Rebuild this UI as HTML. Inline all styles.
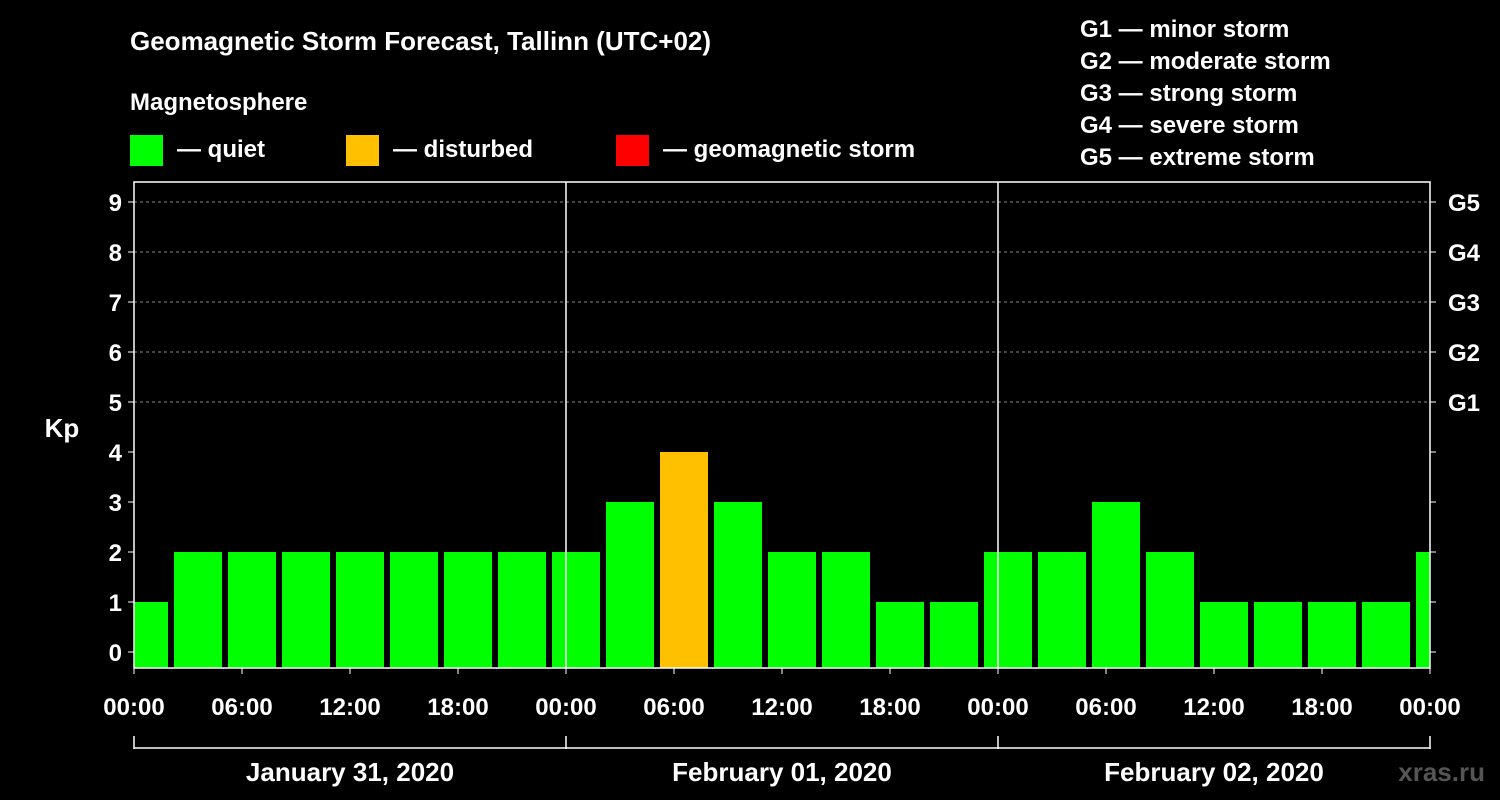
<!DOCTYPE html>
<html><head><meta charset="utf-8"><style>
html,body{margin:0;padding:0;background:#000;}
svg{display:block;font-family:"Liberation Sans",Arial,sans-serif;font-weight:bold;}
</style></head><body>
<svg id="chart" width="1500" height="800" viewBox="0 0 1500 800">
<rect x="0" y="0" width="1500" height="800" fill="#000"/>
<text x="130" y="50" fill="#fff" font-size="26">Geomagnetic Storm Forecast, Tallinn (UTC+02)</text>
<text x="130" y="110" fill="#fff" font-size="24">Magnetosphere</text>
<g>
<rect x="130" y="135" width="33" height="31" fill="#00ff00"/>
<text x="177" y="157" fill="#fff" font-size="24">— quiet</text>
<rect x="346" y="135" width="33" height="31" fill="#ffc000"/>
<text x="393" y="157" fill="#fff" font-size="24">— disturbed</text>
<rect x="616" y="135" width="33" height="31" fill="#ff0000"/>
<text x="663" y="157" fill="#fff" font-size="24">— geomagnetic storm</text>
</g>
<g fill="#fff" font-size="24">
<text x="1080" y="37">G1 — minor storm</text>
<text x="1080" y="69">G2 — moderate storm</text>
<text x="1080" y="101">G3 — strong storm</text>
<text x="1080" y="133">G4 — severe storm</text>
<text x="1080" y="165">G5 — extreme storm</text>
</g>
<text x="62" y="437" fill="#fff" font-size="26" text-anchor="middle">Kp</text>
<g id="grid"></g>
<g id="bars"></g>
<g id="axes"></g>
<text x="1485" y="781" fill="#555" font-size="26" text-anchor="end">xras.ru</text>
</svg>
<script>
const kpValues = [1,2,2,2,2,2,2,2,2,3,4,3,2,2,1,1,2,2,3,2,1,1,1,1,2];
const yTicks = [0,1,2,3,4,5,6,7,8,9];
const gLabels = ["G1","G2","G3","G4","G5"];
const timeLabels = ["00:00","06:00","12:00","18:00","00:00","06:00","12:00","18:00","00:00","06:00","12:00","18:00","00:00"];
const dateLabels = ["January 31, 2020","February 01, 2020","February 02, 2020"];

const NS="http://www.w3.org/2000/svg";
const L=134,R=1430,T=182,B=668;
const pxPerHour=(R-L)/72;
const firstSlotHour=-1; // first 3h slot starts at 23:00 previous day
function x(h){return L+h*pxPerHour;}
function y(v){return 652-50*v;}
function mk(tag,attrs,parent){const e=document.createElementNS(NS,tag);for(const k in attrs)e.setAttribute(k,attrs[k]);parent.appendChild(e);return e;}
const grid=document.getElementById('grid'),bars=document.getElementById('bars'),axes=document.getElementById('axes');

yTicks.forEach((v,i)=>{
  if(v>=5){const g=mk('line',{x1:L,x2:R,y1:y(v),y2:y(v),stroke:'#888','stroke-dasharray':'3,3','stroke-width':1},grid);
  
  }
  const tl=mk('line',{x1:L-6,x2:L,y1:y(v),y2:y(v),stroke:'#fff','stroke-width':1},axes);
  
  
  const tr=mk('line',{x1:R,x2:R+6,y1:y(v),y2:y(v),stroke:'#fff','stroke-width':1},axes);
  
  
  const t=mk('text',{x:L-12,y:y(v)+9,fill:'#fff','font-size':24,'text-anchor':'end'},axes);
  t.textContent=v;
  
  
});
gLabels.forEach((g,i)=>{
  const t=mk('text',{x:R+18,y:y(5+i)+9,fill:'#fff','font-size':24},axes);
  t.textContent=g;
  
  
});
const cp=mk('clipPath',{id:'plotclip'},bars);
mk('rect',{x:L,y:T,width:R-L,height:B-T},cp);
kpValues.forEach((v,i)=>{
  const h0=firstSlotHour+i*3;
  const color=v>=5?'#ff0000':(v>=4?'#ffc000':'#00ff00');
  const r=mk('rect',{x:x(h0)+4,y:y(v),width:3*pxPerHour-6,height:B-y(v),fill:color,'clip-path':'url(#plotclip)'},bars);
  
  
});
// frame
const fr=mk('rect',{x:L,y:T,width:R-L,height:B-T,fill:'none',stroke:'#fff','stroke-width':1.5},axes);


[24,48].forEach(h=>{const d=mk('line',{x1:x(h),x2:x(h),y1:T,y2:B,stroke:'#fff','stroke-width':1.5},axes);

});
timeLabels.forEach((s,i)=>{
  const tk=mk('line',{x1:x(i*6),x2:x(i*6),y1:B,y2:B+6,stroke:'#fff','stroke-width':1},axes);
  
  
  const t=mk('text',{x:x(i*6),y:715,fill:'#fff','font-size':24,'text-anchor':'middle'},axes);
  t.textContent=s;
  
  
});
const br=mk('line',{x1:L,x2:R,y1:748,y2:748,stroke:'#fff','stroke-width':1.5},axes);


[0,24,48,72].forEach(h=>{const d=mk('line',{x1:x(h),x2:x(h),y1:736,y2:749,stroke:'#fff','stroke-width':1.5},axes);

});
dateLabels.forEach((s,i)=>{
  const t=mk('text',{x:x(i*24+12),y:781,fill:'#fff','font-size':26,'text-anchor':'middle'},axes);
  t.textContent=s;
  
  
});
</script>
</body></html>
